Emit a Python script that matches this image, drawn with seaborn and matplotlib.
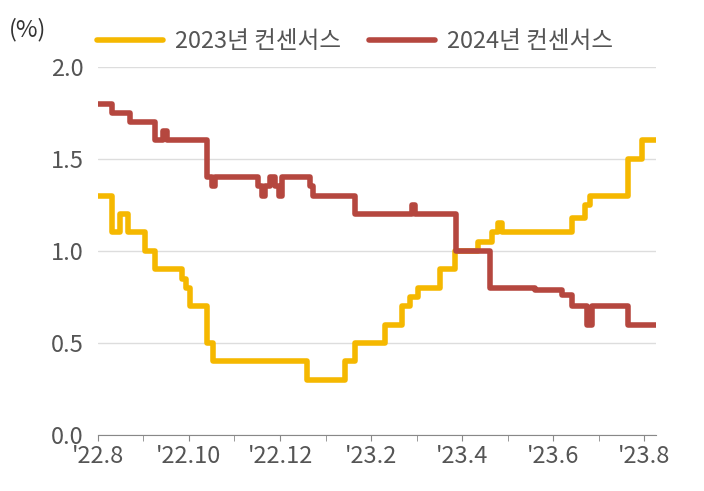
import matplotlib
matplotlib.use("Agg")
import matplotlib.pyplot as plt
import seaborn as sns
import pandas as pd

sns.set_style("white")
plt.rcParams['font.family'] = ['Noto Sans CJK KR', 'DejaVu Sans']

# months since Aug 2022
x_2023 = [0, 0.31, 0.48, 0.66, 1.03, 1.25, 1.85, 1.93, 2.02, 2.40, 2.53, 4.59, 5.43, 5.65,
          6.31, 6.68, 6.86, 7.03, 7.52, 7.85, 8.35, 8.66, 8.79, 8.88, 10.42, 10.70, 10.81,
          11.65, 11.96, 12.26]
y_2023 = [1.3, 1.1, 1.2, 1.1, 1.0, 0.9, 0.85, 0.8, 0.7, 0.5, 0.4, 0.3, 0.4, 0.5,
          0.6, 0.7, 0.75, 0.8, 0.9, 1.0, 1.05, 1.1, 1.15, 1.1, 1.18, 1.25, 1.3,
          1.5, 1.6, 1.6]
x_2024 = [0, 0.31, 0.70, 1.25, 1.43, 1.52, 2.40, 2.51, 2.57, 3.52, 3.60, 3.67, 3.78, 3.89,
          3.98, 4.04, 4.66, 4.73, 5.65, 6.90, 6.97, 7.87, 8.62, 9.60, 10.20, 10.42, 10.75,
          10.86, 11.65, 12.26]
y_2024 = [1.8, 1.75, 1.7, 1.6, 1.65, 1.6, 1.4, 1.35, 1.4, 1.35, 1.3, 1.35, 1.4, 1.35,
          1.3, 1.4, 1.35, 1.3, 1.2, 1.25, 1.2, 1.0, 0.8, 0.79, 0.76, 0.7, 0.6,
          0.7, 0.6, 0.6]
tick_pos = [0, 2, 4, 6, 8, 10, 12]
tick_labels = ["'22.8", "'22.10", "'22.12", "'23.2", "'23.4", "'23.6", "'23.8"]

fig = plt.figure(figsize=(7.04, 4.91), dpi=100)
ax = fig.add_axes([0.139, 0.114, 0.793, 0.75])
sns.lineplot(x=x_2023, y=y_2023, ax=ax, drawstyle='steps-post', color='#F5B800', lw=4, label='2023년 컨센서스')
sns.lineplot(x=x_2024, y=y_2024, ax=ax, drawstyle='steps-post', color='#B5473F', lw=4, label='2024년 컨센서스')

ax.set_xlim(0, 12.26)
ax.set_ylim(0, 2.0)
ax.set_yticks([0, 0.5, 1.0, 1.5, 2.0])
ax.set_yticklabels(['0.0', '0.5', '1.0', '1.5', '2.0'], fontsize=17, color='#555555')
ax.set_xticks(tick_pos)
ax.set_xticklabels(tick_labels, fontsize=17, color='#555555')
ax.set_xticks(range(0, 13), minor=True)
ax.tick_params(axis='x', which='both', length=4, color='#888888', direction='out', bottom=True)
ax.tick_params(axis='y', length=0, pad=10)
ax.yaxis.grid(True, color='#DDDDDD', lw=1)
for s in ['top', 'right', 'left']:
    ax.spines[s].set_visible(False)
ax.spines['bottom'].set_color('#888888')
ax.set_xlabel(''); ax.set_ylabel('')
fig.text(0.012, 0.925, '(%)', fontsize=17, color='#333333')
ax.legend(loc='lower left', bbox_to_anchor=(-0.04, 0.98), ncol=2, frameon=False,
          fontsize=17, handlelength=2.8, columnspacing=1.2, handletextpad=0.5, labelcolor='#555555')
fig.savefig('out.png', dpi=100)
